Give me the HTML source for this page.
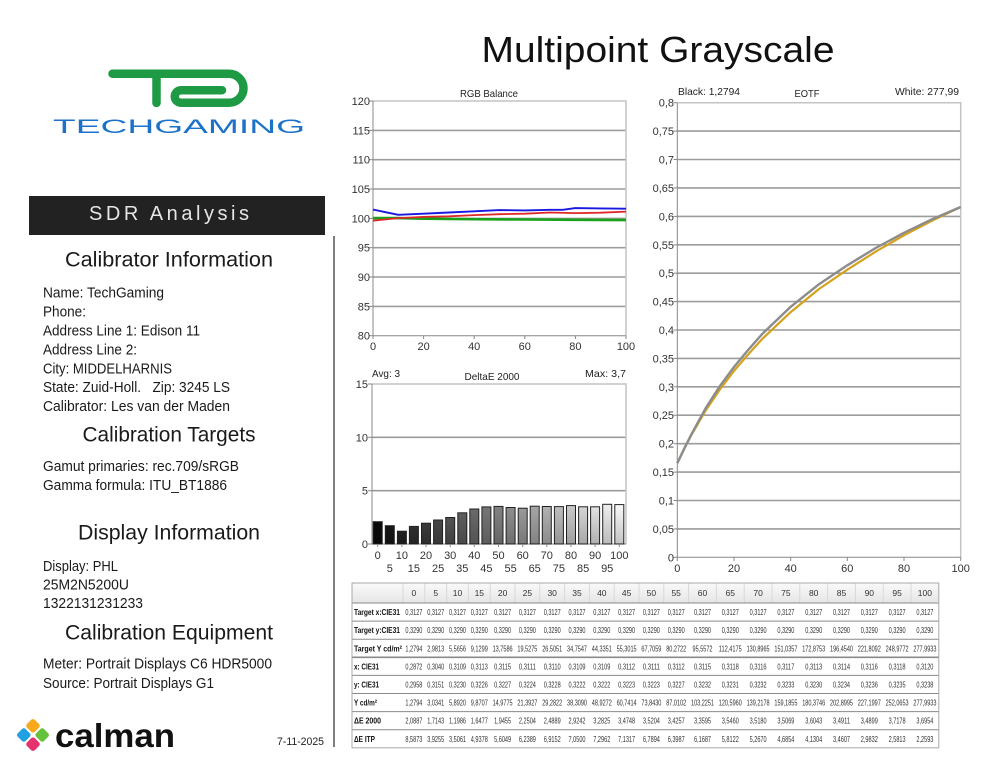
<!DOCTYPE html>
<html><head><meta charset="utf-8"><style>
html,body{margin:0;padding:0;background:#fff;}
svg{display:block;}
text{font-family:"Liberation Sans",sans-serif;}
.ax{font-size:11px;fill:#333;}
.info{font-size:14.5px;fill:#1a1a1a;}
.h{font-size:21px;fill:#1a1a1a;}
.tv{font-size:8.5px;fill:#333;}
.tl{font-size:8.5px;fill:#111;font-weight:bold;}
.grid{stroke:#9c9c9c;stroke-width:1.6;}
</style></head><body>
<svg width="994" height="768" viewBox="0 0 994 768" xmlns="http://www.w3.org/2000/svg">
<defs>
<linearGradient id="hdr" x1="0" y1="0" x2="0" y2="1"><stop offset="0" stop-color="#fafafa"/><stop offset="1" stop-color="#e6e6e6"/></linearGradient>
<linearGradient id="shade" x1="0" y1="0" x2="0" y2="1"><stop offset="0" stop-color="#000" stop-opacity="0"/><stop offset="1" stop-color="#000" stop-opacity="0.22"/></linearGradient>
</defs>
<rect width="994" height="768" fill="#fff"/>

<!-- Title -->
<text x="658" y="62" text-anchor="middle" font-size="36" fill="#111" textLength="353" lengthAdjust="spacingAndGlyphs">Multipoint Grayscale</text>

<!-- TechGaming logo -->
<g fill="none" stroke="#1f9a44" stroke-width="8.5" stroke-linecap="round" stroke-linejoin="round">
<path d="M112.5,73.7 H229 A14.5,14.5 0 0 1 229,102.7 H181 A6.2,6.2 0 0 1 181,90.3 H222"/>
<path d="M156.5,75 V103"/>
</g>
<text x="53" y="133" font-size="19.5" fill="#1c72c8" textLength="252" lengthAdjust="spacingAndGlyphs">TECHGAMING</text>

<!-- SDR Analysis bar -->
<rect x="29" y="196" width="296" height="39" fill="#222"/>
<text x="169" y="220" text-anchor="middle" font-size="20" fill="#e6e6e6" textLength="160" lengthAdjust="spacing">SDR Analysis</text>

<!-- divider -->
<line x1="334" y1="236" x2="334" y2="747" stroke="#555" stroke-width="1.5"/>

<!-- Left info -->
<text class="h" x="169" y="266.5" text-anchor="middle" textLength="208" lengthAdjust="spacingAndGlyphs">Calibrator Information</text>
<text class="info" x="43" y="297.7" textLength="121" lengthAdjust="spacingAndGlyphs">Name: TechGaming</text>
<text class="info" x="43" y="316.6" textLength="43" lengthAdjust="spacingAndGlyphs">Phone:</text>
<text class="info" x="43" y="335.5" textLength="157" lengthAdjust="spacingAndGlyphs">Address Line 1: Edison 11</text>
<text class="info" x="43" y="354.4" textLength="94" lengthAdjust="spacingAndGlyphs">Address Line 2:</text>
<text class="info" x="43" y="373.3" textLength="129" lengthAdjust="spacingAndGlyphs">City: MIDDELHARNIS</text>
<text class="info" x="43" y="392.2" textLength="187" lengthAdjust="spacingAndGlyphs" xml:space="preserve">State: Zuid-Holl.   Zip: 3245 LS</text>
<text class="info" x="43" y="411.1" textLength="187" lengthAdjust="spacingAndGlyphs">Calibrator: Les van der Maden</text>
<text class="h" x="169" y="441.5" text-anchor="middle" textLength="173" lengthAdjust="spacingAndGlyphs">Calibration Targets</text>
<text class="info" x="43" y="471.2" textLength="196" lengthAdjust="spacingAndGlyphs">Gamut primaries: rec.709/sRGB</text>
<text class="info" x="43" y="490.1" textLength="184" lengthAdjust="spacingAndGlyphs">Gamma formula: ITU_BT1886</text>
<text class="h" x="169" y="539.5" text-anchor="middle" textLength="182" lengthAdjust="spacingAndGlyphs">Display Information</text>
<text class="info" x="43" y="571" textLength="75" lengthAdjust="spacingAndGlyphs">Display: PHL</text>
<text class="info" x="43" y="589.5" textLength="86" lengthAdjust="spacingAndGlyphs">25M2N5200U</text>
<text class="info" x="43" y="608" textLength="100" lengthAdjust="spacingAndGlyphs">1322131231233</text>
<text class="h" x="169" y="639.5" text-anchor="middle" textLength="208" lengthAdjust="spacingAndGlyphs">Calibration Equipment</text>
<text class="info" x="43" y="668.3" textLength="229" lengthAdjust="spacingAndGlyphs">Meter: Portrait Displays C6 HDR5000</text>
<text class="info" x="43" y="688" textLength="171" lengthAdjust="spacingAndGlyphs">Source: Portrait Displays G1</text>

<!-- calman logo -->
<g transform="translate(33,735) rotate(45)">
<rect x="-12" y="-12" width="11" height="11" rx="2.5" fill="#f6a91c"/>
<rect x="1" y="-12" width="11" height="11" rx="2.5" fill="#66c13b"/>
<rect x="-12" y="1" width="11" height="11" rx="2.5" fill="#21a0e2"/>
<rect x="1" y="1" width="11" height="11" rx="2.5" fill="#e5326c"/>
</g>
<text x="55" y="747" font-size="33" font-weight="bold" fill="#111" textLength="120" lengthAdjust="spacingAndGlyphs">calman</text>
<text x="277" y="745" font-size="11" fill="#222" textLength="47" lengthAdjust="spacingAndGlyphs">7-11-2025</text>

<!-- ================= RGB Balance ================= -->
<text x="489" y="97" text-anchor="middle" font-size="10.5" fill="#222" textLength="58" lengthAdjust="spacingAndGlyphs">RGB Balance</text>
<g class="grid">
<line x1="373" x2="626" y1="130.4" y2="130.4"/><line x1="373" x2="626" y1="159.7" y2="159.7"/>
<line x1="373" x2="626" y1="189.0" y2="189.0"/><line x1="373" x2="626" y1="218.4" y2="218.4"/>
<line x1="373" x2="626" y1="247.7" y2="247.7"/><line x1="373" x2="626" y1="277.0" y2="277.0"/>
<line x1="373" x2="626" y1="306.4" y2="306.4"/>
</g>
<path d="M373,101 H626 V335.7" fill="none" stroke="#c4c4c4" stroke-width="1.5"/>
<path d="M373,101 V335.7 H626" fill="none" stroke="#888" stroke-width="1"/>
<g stroke="#888" stroke-width="1">
<line x1="369" x2="373" y1="101" y2="101"/><line x1="369" x2="373" y1="130.4" y2="130.4"/><line x1="369" x2="373" y1="159.7" y2="159.7"/><line x1="369" x2="373" y1="189" y2="189"/><line x1="369" x2="373" y1="218.4" y2="218.4"/><line x1="369" x2="373" y1="247.7" y2="247.7"/><line x1="369" x2="373" y1="277" y2="277"/><line x1="369" x2="373" y1="306.4" y2="306.4"/><line x1="369" x2="373" y1="335.7" y2="335.7"/>
<line x1="373" x2="373" y1="335.7" y2="339"/><line x1="423.6" x2="423.6" y1="335.7" y2="339"/><line x1="474.2" x2="474.2" y1="335.7" y2="339"/><line x1="524.8" x2="524.8" y1="335.7" y2="339"/><line x1="575.4" x2="575.4" y1="335.7" y2="339"/><line x1="626" x2="626" y1="335.7" y2="339"/>
</g>
<g class="ax" text-anchor="end">
<text x="370" y="105">120</text><text x="370" y="134.4">115</text><text x="370" y="163.7">110</text><text x="370" y="193">105</text><text x="370" y="222.4">100</text><text x="370" y="251.7">95</text><text x="370" y="281">90</text><text x="370" y="310.4">85</text><text x="370" y="339.7">80</text>
</g>
<g class="ax" text-anchor="middle">
<text x="373" y="350">0</text><text x="423.6" y="350">20</text><text x="474.2" y="350">40</text><text x="524.8" y="350">60</text><text x="575.4" y="350">80</text><text x="626" y="350">100</text>
</g>
<polyline fill="none" stroke="#1aa01a" stroke-width="2.6" stroke-linejoin="round" points="373,218.1 398.3,218.1 423.6,218.65 474.2,219.2 524.8,219.5 575.4,219.8 626,220.1"/>
<polyline fill="none" stroke="#e02828" stroke-width="1.8" stroke-linejoin="round" points="373,220.7 398.3,218.1 423.6,216.9 448.9,216.3 474.2,215.1 499.5,214.2 524.8,213.7 550.1,212.5 575.4,213.1 600.7,212.7 626,211.6"/>
<polyline fill="none" stroke="#1818e0" stroke-width="1.9" stroke-linejoin="round" points="373,209.6 398.3,214.8 423.6,213.7 448.9,212.5 474.2,211.3 499.5,210.1 524.8,210.4 550.1,209.8 562.75,209.8 575.4,208.1 600.7,208.4 626,208.7"/>

<!-- ================= DeltaE 2000 ================= -->
<text x="372" y="377" font-size="10.5" fill="#222" textLength="28" lengthAdjust="spacingAndGlyphs">Avg: 3</text>
<text x="492" y="380" text-anchor="middle" font-size="10.5" fill="#222" textLength="55" lengthAdjust="spacingAndGlyphs">DeltaE 2000</text>
<text x="626" y="377" text-anchor="end" font-size="10.5" fill="#222" textLength="41" lengthAdjust="spacingAndGlyphs">Max: 3,7</text>
<g class="grid"><line x1="372" x2="626" y1="437.3" y2="437.3"/><line x1="372" x2="626" y1="490.7" y2="490.7"/></g>
<path d="M372,384 H626 V544" fill="none" stroke="#c4c4c4" stroke-width="1.5"/>
<path d="M372,384 V544 H626" fill="none" stroke="#888" stroke-width="1"/>
<g stroke="#888" stroke-width="1">
<line x1="368" x2="372" y1="384" y2="384"/><line x1="368" x2="372" y1="437.3" y2="437.3"/><line x1="368" x2="372" y1="490.7" y2="490.7"/><line x1="368" x2="372" y1="544" y2="544"/>
</g>
<g class="ax" text-anchor="end">
<text x="368" y="388">15</text><text x="368" y="441.3">10</text><text x="368" y="494.7">5</text><text x="368" y="548">0</text>
</g>
<g stroke="#222" stroke-width="1">
<rect x="373.2" y="521.7" width="9" height="22.3" fill="#0a0a0a"/>
<rect x="385.3" y="525.7" width="9" height="18.3" fill="#161616"/>
<rect x="397.4" y="531.2" width="9" height="12.8" fill="#222"/>
<rect x="409.4" y="526.4" width="9" height="17.6" fill="#2e2e2e"/>
<rect x="421.5" y="523.2" width="9" height="20.8" fill="#3a3a3a"/>
<rect x="433.6" y="520.0" width="9" height="24.0" fill="#464646"/>
<rect x="445.7" y="517.5" width="9" height="26.5" fill="#525252"/>
<rect x="457.8" y="512.8" width="9" height="31.2" fill="#5e5e5e"/>
<rect x="469.8" y="509.0" width="9" height="35.0" fill="#6a6a6a"/>
<rect x="481.9" y="506.9" width="9" height="37.1" fill="#767676"/>
<rect x="494.0" y="506.4" width="9" height="37.6" fill="#828282"/>
<rect x="506.1" y="507.5" width="9" height="36.5" fill="#8e8e8e"/>
<rect x="518.2" y="508.2" width="9" height="35.8" fill="#9a9a9a"/>
<rect x="530.2" y="506.2" width="9" height="37.8" fill="#a6a6a6"/>
<rect x="542.3" y="506.5" width="9" height="37.5" fill="#b2b2b2"/>
<rect x="554.4" y="506.6" width="9" height="37.4" fill="#bebebe"/>
<rect x="566.5" y="505.6" width="9" height="38.4" fill="#cacaca"/>
<rect x="578.6" y="506.8" width="9" height="37.2" fill="#d6d6d6"/>
<rect x="590.6" y="506.8" width="9" height="37.2" fill="#e2e2e2"/>
<rect x="602.7" y="504.3" width="9" height="39.7" fill="#eeeeee"/>
<rect x="614.8" y="504.6" width="9" height="39.4" fill="#fafafa"/>
</g>
<g fill="url(#shade)">
<rect x="373.2" y="521.7" width="9" height="22.3"/><rect x="385.3" y="525.7" width="9" height="18.3"/><rect x="397.4" y="531.2" width="9" height="12.8"/><rect x="409.4" y="526.4" width="9" height="17.6"/><rect x="421.5" y="523.2" width="9" height="20.8"/><rect x="433.6" y="520.0" width="9" height="24.0"/><rect x="445.7" y="517.5" width="9" height="26.5"/><rect x="457.8" y="512.8" width="9" height="31.2"/><rect x="469.8" y="509.0" width="9" height="35.0"/><rect x="481.9" y="506.9" width="9" height="37.1"/><rect x="494.0" y="506.4" width="9" height="37.6"/><rect x="506.1" y="507.5" width="9" height="36.5"/><rect x="518.2" y="508.2" width="9" height="35.8"/><rect x="530.2" y="506.2" width="9" height="37.8"/><rect x="542.3" y="506.5" width="9" height="37.5"/><rect x="554.4" y="506.6" width="9" height="37.4"/><rect x="566.5" y="505.6" width="9" height="38.4"/><rect x="578.6" y="506.8" width="9" height="37.2"/><rect x="590.6" y="506.8" width="9" height="37.2"/><rect x="602.7" y="504.3" width="9" height="39.7"/><rect x="614.8" y="504.6" width="9" height="39.4"/>
</g>
<g stroke="#888" stroke-width="1">
<line x1="377.7" x2="377.7" y1="544" y2="547"/><line x1="401.9" x2="401.9" y1="544" y2="547"/><line x1="426" x2="426" y1="544" y2="547"/><line x1="450.2" x2="450.2" y1="544" y2="547"/><line x1="474.3" x2="474.3" y1="544" y2="547"/><line x1="498.5" x2="498.5" y1="544" y2="547"/><line x1="522.7" x2="522.7" y1="544" y2="547"/><line x1="546.8" x2="546.8" y1="544" y2="547"/><line x1="571" x2="571" y1="544" y2="547"/><line x1="595.1" x2="595.1" y1="544" y2="547"/><line x1="619.3" x2="619.3" y1="544" y2="547"/>
</g>
<g class="ax" text-anchor="middle">
<text x="377.7" y="559">0</text><text x="401.9" y="559">10</text><text x="426" y="559">20</text><text x="450.2" y="559">30</text><text x="474.3" y="559">40</text><text x="498.5" y="559">50</text><text x="522.7" y="559">60</text><text x="546.8" y="559">70</text><text x="571" y="559">80</text><text x="595.1" y="559">90</text><text x="619.3" y="559">100</text>
<text x="389.8" y="572">5</text><text x="413.9" y="572">15</text><text x="438.1" y="572">25</text><text x="462.3" y="572">35</text><text x="486.4" y="572">45</text><text x="510.6" y="572">55</text><text x="534.7" y="572">65</text><text x="558.9" y="572">75</text><text x="583.1" y="572">85</text><text x="607.2" y="572">95</text>
</g>

<!-- ================= EOTF ================= -->
<text x="678" y="95" font-size="10.5" fill="#222" textLength="62" lengthAdjust="spacingAndGlyphs">Black: 1,2794</text>
<text x="807" y="97" text-anchor="middle" font-size="10.5" fill="#222" textLength="25" lengthAdjust="spacingAndGlyphs">EOTF</text>
<text x="959" y="95" text-anchor="end" font-size="10.5" fill="#222" textLength="64" lengthAdjust="spacingAndGlyphs">White: 277,99</text>
<g class="grid">
<line x1="677.3" x2="960.7" y1="528.9" y2="528.9"/><line x1="677.3" x2="960.7" y1="500.5" y2="500.5"/><line x1="677.3" x2="960.7" y1="472.1" y2="472.1"/><line x1="677.3" x2="960.7" y1="443.7" y2="443.7"/><line x1="677.3" x2="960.7" y1="415.2" y2="415.2"/><line x1="677.3" x2="960.7" y1="386.8" y2="386.8"/><line x1="677.3" x2="960.7" y1="358.4" y2="358.4"/><line x1="677.3" x2="960.7" y1="330.0" y2="330.0"/><line x1="677.3" x2="960.7" y1="301.6" y2="301.6"/><line x1="677.3" x2="960.7" y1="273.2" y2="273.2"/><line x1="677.3" x2="960.7" y1="244.8" y2="244.8"/><line x1="677.3" x2="960.7" y1="216.4" y2="216.4"/><line x1="677.3" x2="960.7" y1="187.9" y2="187.9"/><line x1="677.3" x2="960.7" y1="159.5" y2="159.5"/><line x1="677.3" x2="960.7" y1="131.1" y2="131.1"/>
</g>
<path d="M677.3,102.7 H960.7 V557.3" fill="none" stroke="#c4c4c4" stroke-width="1.5"/>
<path d="M677.3,102.7 V557.3 H960.7" fill="none" stroke="#888" stroke-width="1"/>
<g stroke="#888" stroke-width="1">
<line x1="673.5" x2="677.3" y1="557.3" y2="557.3"/><line x1="673.5" x2="677.3" y1="528.9" y2="528.9"/><line x1="673.5" x2="677.3" y1="500.5" y2="500.5"/><line x1="673.5" x2="677.3" y1="472.1" y2="472.1"/><line x1="673.5" x2="677.3" y1="443.7" y2="443.7"/><line x1="673.5" x2="677.3" y1="415.2" y2="415.2"/><line x1="673.5" x2="677.3" y1="386.8" y2="386.8"/><line x1="673.5" x2="677.3" y1="358.4" y2="358.4"/><line x1="673.5" x2="677.3" y1="330" y2="330"/><line x1="673.5" x2="677.3" y1="301.6" y2="301.6"/><line x1="673.5" x2="677.3" y1="273.2" y2="273.2"/><line x1="673.5" x2="677.3" y1="244.8" y2="244.8"/><line x1="673.5" x2="677.3" y1="216.4" y2="216.4"/><line x1="673.5" x2="677.3" y1="187.9" y2="187.9"/><line x1="673.5" x2="677.3" y1="159.5" y2="159.5"/><line x1="673.5" x2="677.3" y1="131.1" y2="131.1"/><line x1="673.5" x2="677.3" y1="102.7" y2="102.7"/>
<line x1="677.3" x2="677.3" y1="557.3" y2="561"/><line x1="734" x2="734" y1="557.3" y2="561"/><line x1="790.7" x2="790.7" y1="557.3" y2="561"/><line x1="847.3" x2="847.3" y1="557.3" y2="561"/><line x1="904" x2="904" y1="557.3" y2="561"/><line x1="960.7" x2="960.7" y1="557.3" y2="561"/>
</g>
<g class="ax" text-anchor="end">
<text x="674" y="561.3">0</text><text x="674" y="532.9">0,05</text><text x="674" y="504.5">0,1</text><text x="674" y="476.1">0,15</text><text x="674" y="447.7">0,2</text><text x="674" y="419.2">0,25</text><text x="674" y="390.8">0,3</text><text x="674" y="362.4">0,35</text><text x="674" y="334">0,4</text><text x="674" y="305.6">0,45</text><text x="674" y="277.2">0,5</text><text x="674" y="248.8">0,55</text><text x="674" y="220.4">0,6</text><text x="674" y="191.9">0,65</text><text x="674" y="163.5">0,7</text><text x="674" y="135.1">0,75</text><text x="674" y="106.7">0,8</text>
</g>
<g class="ax" text-anchor="middle">
<text x="677.3" y="572">0</text><text x="734" y="572">20</text><text x="790.7" y="572">40</text><text x="847.3" y="572">60</text><text x="904" y="572">80</text><text x="960.7" y="572">100</text>
</g>
<polyline fill="none" stroke="#d6a21e" stroke-width="2.2" stroke-linejoin="round" points="677.3,463.2 684.4,448.6 691.5,434.8 705.6,410.6 719.8,389.6 734,370.9 748.2,354.4 762.3,338.9 790.7,312.1 819,289 847.3,269.7 875.7,251.6 904,235.3 932.4,220.5 960.7,207"/>
<polyline fill="none" stroke="#8c8c8c" stroke-width="2.4" stroke-linejoin="round" points="677.3,463.2 684.4,448.2 691.5,434.2 705.6,408.3 719.8,386.2 734,367 748.2,349.9 762.3,333.9 790.7,306.8 819,284.2 847.3,265.3 875.7,248 904,232.8 932.4,219.1 960.7,207"/>

<!-- ================= Table ================= -->
<rect x="352" y="583" width="586.8" height="20" fill="url(#hdr)"/>
<g stroke="#d8d8d8" stroke-width="1">
<line x1="403" x2="403" y1="583" y2="603"/><line x1="424.8" x2="424.8" y1="583" y2="603"/><line x1="446.6" x2="446.6" y1="583" y2="603"/><line x1="468.4" x2="468.4" y1="583" y2="603"/><line x1="490.2" x2="490.2" y1="583" y2="603"/><line x1="515" x2="515" y1="583" y2="603"/><line x1="539.8" x2="539.8" y1="583" y2="603"/><line x1="564.6" x2="564.6" y1="583" y2="603"/><line x1="589.4" x2="589.4" y1="583" y2="603"/><line x1="614.2" x2="614.2" y1="583" y2="603"/><line x1="639" x2="639" y1="583" y2="603"/><line x1="663.8" x2="663.8" y1="583" y2="603"/><line x1="688.6" x2="688.6" y1="583" y2="603"/><line x1="716.4" x2="716.4" y1="583" y2="603"/><line x1="744.2" x2="744.2" y1="583" y2="603"/><line x1="772" x2="772" y1="583" y2="603"/><line x1="799.8" x2="799.8" y1="583" y2="603"/><line x1="827.6" x2="827.6" y1="583" y2="603"/><line x1="855.4" x2="855.4" y1="583" y2="603"/><line x1="883.2" x2="883.2" y1="583" y2="603"/><line x1="911" x2="911" y1="583" y2="603"/>
</g>
<g stroke="#8a8a8a" stroke-width="1">
<line x1="352" x2="938.8" y1="603" y2="603"/><line x1="352" x2="938.8" y1="621.1" y2="621.1"/><line x1="352" x2="938.8" y1="639.2" y2="639.2"/><line x1="352" x2="938.8" y1="657.3" y2="657.3" stroke-width="1.6"/><line x1="352" x2="938.8" y1="675.4" y2="675.4"/><line x1="352" x2="938.8" y1="693.5" y2="693.5"/><line x1="352" x2="938.8" y1="711.6" y2="711.6"/><line x1="352" x2="938.8" y1="729.7" y2="729.7"/>
</g>
<rect x="352" y="583" width="586.8" height="164.8" fill="none" stroke="#a8a8a8" stroke-width="1"/>

<g class="tv" text-anchor="middle">
<text x="413.9" y="596">0</text><text x="435.7" y="596">5</text><text x="457.5" y="596">10</text><text x="479.3" y="596">15</text><text x="502.6" y="596">20</text><text x="527.4" y="596">25</text><text x="552.2" y="596">30</text><text x="577" y="596">35</text><text x="601.8" y="596">40</text><text x="626.6" y="596">45</text><text x="651.4" y="596">50</text><text x="676.2" y="596">55</text><text x="702.5" y="596">60</text><text x="730.3" y="596">65</text><text x="758.1" y="596">70</text><text x="785.9" y="596">75</text><text x="813.7" y="596">80</text><text x="841.5" y="596">85</text><text x="869.3" y="596">90</text><text x="897.1" y="596">95</text><text x="924.9" y="596">100</text>
</g>

<g class="tl">
<text x="354" y="615" textLength="46" lengthAdjust="spacingAndGlyphs">Target x:CIE31</text>
<text x="354" y="633.2" textLength="46" lengthAdjust="spacingAndGlyphs">Target y:CIE31</text>
<text x="354" y="651.3" textLength="48" lengthAdjust="spacingAndGlyphs">Target Y cd/m²</text>
<text x="354" y="669.4" textLength="25" lengthAdjust="spacingAndGlyphs">x: CIE31</text>
<text x="354" y="687.5" textLength="25" lengthAdjust="spacingAndGlyphs">y: CIE31</text>
<text x="354" y="705.6" textLength="23" lengthAdjust="spacingAndGlyphs">Y cd/m²</text>
<text x="354" y="723.7" textLength="27" lengthAdjust="spacingAndGlyphs">ΔE 2000</text>
<text x="354" y="741.8" textLength="21" lengthAdjust="spacingAndGlyphs">ΔE ITP</text>
</g>

<g class="tv" text-anchor="middle">
<!-- Row 1 Target x -->
<text x="413.9" y="615" textLength="17" lengthAdjust="spacingAndGlyphs">0,3127</text><text x="435.7" y="615" textLength="17" lengthAdjust="spacingAndGlyphs">0,3127</text><text x="457.5" y="615" textLength="17" lengthAdjust="spacingAndGlyphs">0,3127</text><text x="479.3" y="615" textLength="17" lengthAdjust="spacingAndGlyphs">0,3127</text><text x="502.6" y="615" textLength="17" lengthAdjust="spacingAndGlyphs">0,3127</text><text x="527.4" y="615" textLength="17" lengthAdjust="spacingAndGlyphs">0,3127</text><text x="552.2" y="615" textLength="17" lengthAdjust="spacingAndGlyphs">0,3127</text><text x="577" y="615" textLength="17" lengthAdjust="spacingAndGlyphs">0,3127</text><text x="601.8" y="615" textLength="17" lengthAdjust="spacingAndGlyphs">0,3127</text><text x="626.6" y="615" textLength="17" lengthAdjust="spacingAndGlyphs">0,3127</text><text x="651.4" y="615" textLength="17" lengthAdjust="spacingAndGlyphs">0,3127</text><text x="676.2" y="615" textLength="17" lengthAdjust="spacingAndGlyphs">0,3127</text><text x="702.5" y="615" textLength="17" lengthAdjust="spacingAndGlyphs">0,3127</text><text x="730.3" y="615" textLength="17" lengthAdjust="spacingAndGlyphs">0,3127</text><text x="758.1" y="615" textLength="17" lengthAdjust="spacingAndGlyphs">0,3127</text><text x="785.9" y="615" textLength="17" lengthAdjust="spacingAndGlyphs">0,3127</text><text x="813.7" y="615" textLength="17" lengthAdjust="spacingAndGlyphs">0,3127</text><text x="841.5" y="615" textLength="17" lengthAdjust="spacingAndGlyphs">0,3127</text><text x="869.3" y="615" textLength="17" lengthAdjust="spacingAndGlyphs">0,3127</text><text x="897.1" y="615" textLength="17" lengthAdjust="spacingAndGlyphs">0,3127</text><text x="924.9" y="615" textLength="17" lengthAdjust="spacingAndGlyphs">0,3127</text>
<!-- Row 2 Target y -->
<text x="413.9" y="633.2" textLength="17" lengthAdjust="spacingAndGlyphs">0,3290</text><text x="435.7" y="633.2" textLength="17" lengthAdjust="spacingAndGlyphs">0,3290</text><text x="457.5" y="633.2" textLength="17" lengthAdjust="spacingAndGlyphs">0,3290</text><text x="479.3" y="633.2" textLength="17" lengthAdjust="spacingAndGlyphs">0,3290</text><text x="502.6" y="633.2" textLength="17" lengthAdjust="spacingAndGlyphs">0,3290</text><text x="527.4" y="633.2" textLength="17" lengthAdjust="spacingAndGlyphs">0,3290</text><text x="552.2" y="633.2" textLength="17" lengthAdjust="spacingAndGlyphs">0,3290</text><text x="577" y="633.2" textLength="17" lengthAdjust="spacingAndGlyphs">0,3290</text><text x="601.8" y="633.2" textLength="17" lengthAdjust="spacingAndGlyphs">0,3290</text><text x="626.6" y="633.2" textLength="17" lengthAdjust="spacingAndGlyphs">0,3290</text><text x="651.4" y="633.2" textLength="17" lengthAdjust="spacingAndGlyphs">0,3290</text><text x="676.2" y="633.2" textLength="17" lengthAdjust="spacingAndGlyphs">0,3290</text><text x="702.5" y="633.2" textLength="17" lengthAdjust="spacingAndGlyphs">0,3290</text><text x="730.3" y="633.2" textLength="17" lengthAdjust="spacingAndGlyphs">0,3290</text><text x="758.1" y="633.2" textLength="17" lengthAdjust="spacingAndGlyphs">0,3290</text><text x="785.9" y="633.2" textLength="17" lengthAdjust="spacingAndGlyphs">0,3290</text><text x="813.7" y="633.2" textLength="17" lengthAdjust="spacingAndGlyphs">0,3290</text><text x="841.5" y="633.2" textLength="17" lengthAdjust="spacingAndGlyphs">0,3290</text><text x="869.3" y="633.2" textLength="17" lengthAdjust="spacingAndGlyphs">0,3290</text><text x="897.1" y="633.2" textLength="17" lengthAdjust="spacingAndGlyphs">0,3290</text><text x="924.9" y="633.2" textLength="17" lengthAdjust="spacingAndGlyphs">0,3290</text>
<!-- Row 3 Target Y -->
<text x="413.9" y="651.3" textLength="17" lengthAdjust="spacingAndGlyphs">1,2794</text><text x="435.7" y="651.3" textLength="17" lengthAdjust="spacingAndGlyphs">2,9813</text><text x="457.5" y="651.3" textLength="17" lengthAdjust="spacingAndGlyphs">5,5656</text><text x="479.3" y="651.3" textLength="17" lengthAdjust="spacingAndGlyphs">9,1299</text><text x="502.6" y="651.3" textLength="20" lengthAdjust="spacingAndGlyphs">13,7586</text><text x="527.4" y="651.3" textLength="20" lengthAdjust="spacingAndGlyphs">19,5275</text><text x="552.2" y="651.3" textLength="20" lengthAdjust="spacingAndGlyphs">26,5051</text><text x="577" y="651.3" textLength="20" lengthAdjust="spacingAndGlyphs">34,7547</text><text x="601.8" y="651.3" textLength="20" lengthAdjust="spacingAndGlyphs">44,3351</text><text x="626.6" y="651.3" textLength="20" lengthAdjust="spacingAndGlyphs">55,3015</text><text x="651.4" y="651.3" textLength="20" lengthAdjust="spacingAndGlyphs">67,7059</text><text x="676.2" y="651.3" textLength="20" lengthAdjust="spacingAndGlyphs">80,2722</text><text x="702.5" y="651.3" textLength="20" lengthAdjust="spacingAndGlyphs">95,5572</text><text x="730.3" y="651.3" textLength="23" lengthAdjust="spacingAndGlyphs">112,4175</text><text x="758.1" y="651.3" textLength="23" lengthAdjust="spacingAndGlyphs">130,8965</text><text x="785.9" y="651.3" textLength="23" lengthAdjust="spacingAndGlyphs">151,0357</text><text x="813.7" y="651.3" textLength="23" lengthAdjust="spacingAndGlyphs">172,8753</text><text x="841.5" y="651.3" textLength="23" lengthAdjust="spacingAndGlyphs">196,4540</text><text x="869.3" y="651.3" textLength="23" lengthAdjust="spacingAndGlyphs">221,8092</text><text x="897.1" y="651.3" textLength="23" lengthAdjust="spacingAndGlyphs">248,9772</text><text x="924.9" y="651.3" textLength="23" lengthAdjust="spacingAndGlyphs">277,9933</text>
<!-- Row 4 x -->
<text x="413.9" y="669.4" textLength="17" lengthAdjust="spacingAndGlyphs">0,2872</text><text x="435.7" y="669.4" textLength="17" lengthAdjust="spacingAndGlyphs">0,3040</text><text x="457.5" y="669.4" textLength="17" lengthAdjust="spacingAndGlyphs">0,3109</text><text x="479.3" y="669.4" textLength="17" lengthAdjust="spacingAndGlyphs">0,3113</text><text x="502.6" y="669.4" textLength="17" lengthAdjust="spacingAndGlyphs">0,3115</text><text x="527.4" y="669.4" textLength="17" lengthAdjust="spacingAndGlyphs">0,3111</text><text x="552.2" y="669.4" textLength="17" lengthAdjust="spacingAndGlyphs">0,3110</text><text x="577" y="669.4" textLength="17" lengthAdjust="spacingAndGlyphs">0,3109</text><text x="601.8" y="669.4" textLength="17" lengthAdjust="spacingAndGlyphs">0,3109</text><text x="626.6" y="669.4" textLength="17" lengthAdjust="spacingAndGlyphs">0,3112</text><text x="651.4" y="669.4" textLength="17" lengthAdjust="spacingAndGlyphs">0,3111</text><text x="676.2" y="669.4" textLength="17" lengthAdjust="spacingAndGlyphs">0,3112</text><text x="702.5" y="669.4" textLength="17" lengthAdjust="spacingAndGlyphs">0,3115</text><text x="730.3" y="669.4" textLength="17" lengthAdjust="spacingAndGlyphs">0,3118</text><text x="758.1" y="669.4" textLength="17" lengthAdjust="spacingAndGlyphs">0,3116</text><text x="785.9" y="669.4" textLength="17" lengthAdjust="spacingAndGlyphs">0,3117</text><text x="813.7" y="669.4" textLength="17" lengthAdjust="spacingAndGlyphs">0,3113</text><text x="841.5" y="669.4" textLength="17" lengthAdjust="spacingAndGlyphs">0,3114</text><text x="869.3" y="669.4" textLength="17" lengthAdjust="spacingAndGlyphs">0,3116</text><text x="897.1" y="669.4" textLength="17" lengthAdjust="spacingAndGlyphs">0,3118</text><text x="924.9" y="669.4" textLength="17" lengthAdjust="spacingAndGlyphs">0,3120</text>
<!-- Row 5 y -->
<text x="413.9" y="687.5" textLength="17" lengthAdjust="spacingAndGlyphs">0,2958</text><text x="435.7" y="687.5" textLength="17" lengthAdjust="spacingAndGlyphs">0,3151</text><text x="457.5" y="687.5" textLength="17" lengthAdjust="spacingAndGlyphs">0,3230</text><text x="479.3" y="687.5" textLength="17" lengthAdjust="spacingAndGlyphs">0,3226</text><text x="502.6" y="687.5" textLength="17" lengthAdjust="spacingAndGlyphs">0,3227</text><text x="527.4" y="687.5" textLength="17" lengthAdjust="spacingAndGlyphs">0,3224</text><text x="552.2" y="687.5" textLength="17" lengthAdjust="spacingAndGlyphs">0,3228</text><text x="577" y="687.5" textLength="17" lengthAdjust="spacingAndGlyphs">0,3222</text><text x="601.8" y="687.5" textLength="17" lengthAdjust="spacingAndGlyphs">0,3222</text><text x="626.6" y="687.5" textLength="17" lengthAdjust="spacingAndGlyphs">0,3223</text><text x="651.4" y="687.5" textLength="17" lengthAdjust="spacingAndGlyphs">0,3223</text><text x="676.2" y="687.5" textLength="17" lengthAdjust="spacingAndGlyphs">0,3227</text><text x="702.5" y="687.5" textLength="17" lengthAdjust="spacingAndGlyphs">0,3232</text><text x="730.3" y="687.5" textLength="17" lengthAdjust="spacingAndGlyphs">0,3231</text><text x="758.1" y="687.5" textLength="17" lengthAdjust="spacingAndGlyphs">0,3232</text><text x="785.9" y="687.5" textLength="17" lengthAdjust="spacingAndGlyphs">0,3233</text><text x="813.7" y="687.5" textLength="17" lengthAdjust="spacingAndGlyphs">0,3230</text><text x="841.5" y="687.5" textLength="17" lengthAdjust="spacingAndGlyphs">0,3234</text><text x="869.3" y="687.5" textLength="17" lengthAdjust="spacingAndGlyphs">0,3236</text><text x="897.1" y="687.5" textLength="17" lengthAdjust="spacingAndGlyphs">0,3235</text><text x="924.9" y="687.5" textLength="17" lengthAdjust="spacingAndGlyphs">0,3238</text>
<!-- Row 6 Y -->
<text x="413.9" y="705.6" textLength="17" lengthAdjust="spacingAndGlyphs">1,2794</text><text x="435.7" y="705.6" textLength="17" lengthAdjust="spacingAndGlyphs">3,0341</text><text x="457.5" y="705.6" textLength="17" lengthAdjust="spacingAndGlyphs">5,8920</text><text x="479.3" y="705.6" textLength="17" lengthAdjust="spacingAndGlyphs">9,8707</text><text x="502.6" y="705.6" textLength="20" lengthAdjust="spacingAndGlyphs">14,9775</text><text x="527.4" y="705.6" textLength="20" lengthAdjust="spacingAndGlyphs">21,3927</text><text x="552.2" y="705.6" textLength="20" lengthAdjust="spacingAndGlyphs">29,2822</text><text x="577" y="705.6" textLength="20" lengthAdjust="spacingAndGlyphs">38,3090</text><text x="601.8" y="705.6" textLength="20" lengthAdjust="spacingAndGlyphs">48,9272</text><text x="626.6" y="705.6" textLength="20" lengthAdjust="spacingAndGlyphs">60,7414</text><text x="651.4" y="705.6" textLength="20" lengthAdjust="spacingAndGlyphs">73,8430</text><text x="676.2" y="705.6" textLength="20" lengthAdjust="spacingAndGlyphs">87,0102</text><text x="702.5" y="705.6" textLength="23" lengthAdjust="spacingAndGlyphs">103,2251</text><text x="730.3" y="705.6" textLength="23" lengthAdjust="spacingAndGlyphs">120,5960</text><text x="758.1" y="705.6" textLength="23" lengthAdjust="spacingAndGlyphs">139,2178</text><text x="785.9" y="705.6" textLength="23" lengthAdjust="spacingAndGlyphs">159,1855</text><text x="813.7" y="705.6" textLength="23" lengthAdjust="spacingAndGlyphs">180,3746</text><text x="841.5" y="705.6" textLength="23" lengthAdjust="spacingAndGlyphs">202,8995</text><text x="869.3" y="705.6" textLength="23" lengthAdjust="spacingAndGlyphs">227,1997</text><text x="897.1" y="705.6" textLength="23" lengthAdjust="spacingAndGlyphs">252,0653</text><text x="924.9" y="705.6" textLength="23" lengthAdjust="spacingAndGlyphs">277,9933</text>
<!-- Row 7 dE2000 -->
<text x="413.9" y="723.7" textLength="17" lengthAdjust="spacingAndGlyphs">2,0887</text><text x="435.7" y="723.7" textLength="17" lengthAdjust="spacingAndGlyphs">1,7143</text><text x="457.5" y="723.7" textLength="17" lengthAdjust="spacingAndGlyphs">1,1986</text><text x="479.3" y="723.7" textLength="17" lengthAdjust="spacingAndGlyphs">1,6477</text><text x="502.6" y="723.7" textLength="17" lengthAdjust="spacingAndGlyphs">1,9455</text><text x="527.4" y="723.7" textLength="17" lengthAdjust="spacingAndGlyphs">2,2504</text><text x="552.2" y="723.7" textLength="17" lengthAdjust="spacingAndGlyphs">2,4889</text><text x="577" y="723.7" textLength="17" lengthAdjust="spacingAndGlyphs">2,9242</text><text x="601.8" y="723.7" textLength="17" lengthAdjust="spacingAndGlyphs">3,2825</text><text x="626.6" y="723.7" textLength="17" lengthAdjust="spacingAndGlyphs">3,4748</text><text x="651.4" y="723.7" textLength="17" lengthAdjust="spacingAndGlyphs">3,5204</text><text x="676.2" y="723.7" textLength="17" lengthAdjust="spacingAndGlyphs">3,4257</text><text x="702.5" y="723.7" textLength="17" lengthAdjust="spacingAndGlyphs">3,3595</text><text x="730.3" y="723.7" textLength="17" lengthAdjust="spacingAndGlyphs">3,5460</text><text x="758.1" y="723.7" textLength="17" lengthAdjust="spacingAndGlyphs">3,5180</text><text x="785.9" y="723.7" textLength="17" lengthAdjust="spacingAndGlyphs">3,5069</text><text x="813.7" y="723.7" textLength="17" lengthAdjust="spacingAndGlyphs">3,6043</text><text x="841.5" y="723.7" textLength="17" lengthAdjust="spacingAndGlyphs">3,4911</text><text x="869.3" y="723.7" textLength="17" lengthAdjust="spacingAndGlyphs">3,4899</text><text x="897.1" y="723.7" textLength="17" lengthAdjust="spacingAndGlyphs">3,7178</text><text x="924.9" y="723.7" textLength="17" lengthAdjust="spacingAndGlyphs">3,6954</text>
<!-- Row 8 dE ITP -->
<text x="413.9" y="741.8" textLength="17" lengthAdjust="spacingAndGlyphs">8,5873</text><text x="435.7" y="741.8" textLength="17" lengthAdjust="spacingAndGlyphs">3,9255</text><text x="457.5" y="741.8" textLength="17" lengthAdjust="spacingAndGlyphs">3,5061</text><text x="479.3" y="741.8" textLength="17" lengthAdjust="spacingAndGlyphs">4,9378</text><text x="502.6" y="741.8" textLength="17" lengthAdjust="spacingAndGlyphs">5,6049</text><text x="527.4" y="741.8" textLength="17" lengthAdjust="spacingAndGlyphs">6,2389</text><text x="552.2" y="741.8" textLength="17" lengthAdjust="spacingAndGlyphs">6,9152</text><text x="577" y="741.8" textLength="17" lengthAdjust="spacingAndGlyphs">7,0500</text><text x="601.8" y="741.8" textLength="17" lengthAdjust="spacingAndGlyphs">7,2962</text><text x="626.6" y="741.8" textLength="17" lengthAdjust="spacingAndGlyphs">7,1317</text><text x="651.4" y="741.8" textLength="17" lengthAdjust="spacingAndGlyphs">6,7894</text><text x="676.2" y="741.8" textLength="17" lengthAdjust="spacingAndGlyphs">6,3987</text><text x="702.5" y="741.8" textLength="17" lengthAdjust="spacingAndGlyphs">6,1687</text><text x="730.3" y="741.8" textLength="17" lengthAdjust="spacingAndGlyphs">5,8122</text><text x="758.1" y="741.8" textLength="17" lengthAdjust="spacingAndGlyphs">5,2670</text><text x="785.9" y="741.8" textLength="17" lengthAdjust="spacingAndGlyphs">4,6854</text><text x="813.7" y="741.8" textLength="17" lengthAdjust="spacingAndGlyphs">4,1304</text><text x="841.5" y="741.8" textLength="17" lengthAdjust="spacingAndGlyphs">3,4607</text><text x="869.3" y="741.8" textLength="17" lengthAdjust="spacingAndGlyphs">2,9832</text><text x="897.1" y="741.8" textLength="17" lengthAdjust="spacingAndGlyphs">2,5813</text><text x="924.9" y="741.8" textLength="17" lengthAdjust="spacingAndGlyphs">2,2593</text>
</g>
</svg>
</body></html>
